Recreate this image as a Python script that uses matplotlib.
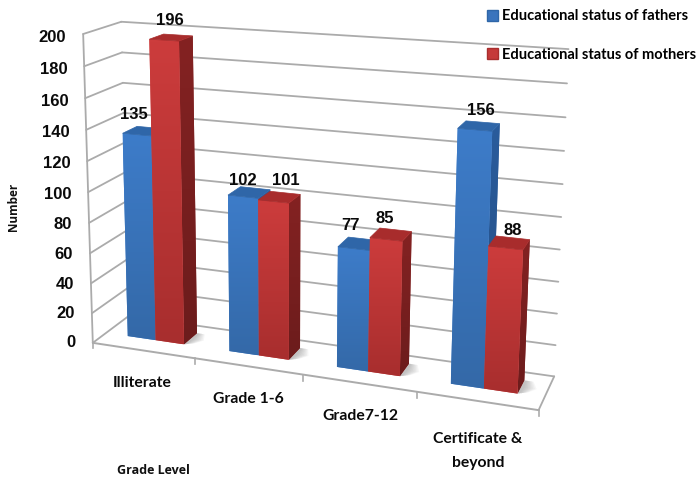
import numpy as np
import matplotlib
matplotlib.use("Agg")
import matplotlib.pyplot as plt
from matplotlib.colors import LinearSegmentedColormap
from matplotlib.patches import Polygon, Patch

# Chart content
categories = ["Illiterate", "Grade 1-6", "Grade7-12", "Certificate &\nbeyond"]
fathers = [135, 102, 77, 156]
mothers = [196, 101, 85, 88]
series_names = ["Educational status of fathers", "Educational status of mothers"]
y_ticks = list(range(0, 201, 20))

WIDTH, HEIGHT = 699, 482
BAR_START = 0.22
BAR_WIDTH = 0.28
DEPTH_FRONT, DEPTH_BACK = 0.36, 0.76

# Camera calibration: (category pos, depth, value) -> canvas position
calibration = [
    ((0, 0, 0), (95, 342)), ((4, 0, 0), (538, 412)), ((4, 1, 0), (555, 373)),
    ((0, 1, 0), (127, 318)), ((0, 0, 200), (82, 33)), ((0, 1, 200), (122, 22)),
    ((4, 1, 200), (568, 50)), ((1, 0, 0), (194, 358)), ((2, 0, 0), (302, 373)),
    ((3, 0, 0), (417, 394)), ((0, 0, 100), (89, 192)), ((4, 1, 100), (562, 217)),
]


def solve_camera(pairs):
    rows, rhs = [], []
    for (x, d, z), (u, v) in pairs:
        z = z / 100
        rows.append([x, d, z, 1, 0, 0, 0, 0, -u * x, -u * d, -u * z])
        rows.append([0, 0, 0, 0, x, d, z, 1, -v * x, -v * d, -v * z])
        rhs += [u, v]
    p = np.linalg.lstsq(np.array(rows, float), np.array(rhs, float), rcond=None)[0]
    return np.append(p, 1.0).reshape(3, 4)


CAMERA = solve_camera(calibration)


def project(x, d, z):
    h = CAMERA @ np.array([x, d, z / 100, 1.0])
    return h[0] / h[2], h[1] / h[2]


plt.rcParams["font.family"] = ["Liberation Sans", "DejaVu Sans"]
fig = plt.figure(figsize=(WIDTH / 100, HEIGHT / 100), dpi=100)
ax = fig.add_axes([0, 0, 1, 1])
ax.set_xlim(0, WIDTH)
ax.set_ylim(HEIGHT, 0)
ax.set_autoscale_on(False)
ax.axis("off")

GRID = "#ababab"


def line3d(a, b, **kw):
    pa, pb = project(*a), project(*b)
    ax.plot([pa[0], pb[0]], [pa[1], pb[1]], color=GRID, solid_capstyle="round", **kw)


# Walls and floor
for v in y_ticks:
    line3d((0, 0, v), (0, 1, v), lw=1.3, zorder=1)
    line3d((0, 1, v), (4, 1, v), lw=1.3, zorder=1)
line3d((0, 0, 0), (0, 0, 200), lw=1.3, zorder=1)
line3d((0, 0, 0), (4, 0, 0), lw=1.4, zorder=1)
line3d((4, 0, 0), (4, 1, 0), lw=1.3, zorder=1)
for i in range(1, 5):
    px, py = project(i, 0, 0)
    ax.plot([px, px], [py, py + 6], color=GRID, lw=1.2, zorder=1)
px, py = project(0, 0, 0)
ax.plot([px, px], [py, py + 5], color=GRID, lw=1.2, zorder=1)


def shaded_face(corners, top_color, bottom_color, z):
    """Fill a projected quad with a vertical colour ramp clipped to its outline."""
    pts = np.array([project(*c) for c in corners])
    outline = Polygon(pts, closed=True, facecolor=top_color, edgecolor="none", zorder=z)
    ax.add_patch(outline)
    cmap = LinearSegmentedColormap.from_list("ramp", [top_color, bottom_color])
    xs, ys = pts[:, 0], pts[:, 1]
    img = ax.imshow(np.linspace(0, 1, 64).reshape(-1, 1), cmap=cmap, aspect="auto",
                    extent=(xs.min(), xs.max(), ys.max(), ys.min()), zorder=z + 0.01,
                    interpolation="bilinear")
    img.set_clip_path(outline)


def bar(x0, x1, value, front_top, front_bottom, side_top, side_bottom, roof, z):
    d0, d1 = DEPTH_FRONT, DEPTH_BACK
    shaded_face([(x1, d0, 0), (x1, d1, 0), (x1, d1, value), (x1, d0, value)], side_top, side_bottom, z)
    shaded_face([(x0, d0, 0), (x1, d0, 0), (x1, d0, value), (x0, d0, value)], front_top, front_bottom, z + 0.1)
    ax.add_patch(Polygon([project(x0, d0, value), project(x1, d0, value),
                          project(x1, d1, value), project(x0, d1, value)],
                         closed=True, facecolor=roof, edgecolor=roof, lw=0.5, zorder=z + 0.2))


BLUE = dict(front_top="#3d7cc9", front_bottom="#3469a8", side_top="#2a5c9c", side_bottom="#234d82", roof="#2f66a8")
RED = dict(front_top="#cc3c3c", front_bottom="#a82e2e", side_top="#842222", side_bottom="#6c1c1c", roof="#a82c2c")

for i in range(len(categories)):
    x_a = i + BAR_START
    x_b = x_a + BAR_WIDTH
    x_c = x_b + BAR_WIDTH
    # Soft contact shadow on the floor
    for grow in np.linspace(0.03, 0.13, 8):
        pts = [(x_c, DEPTH_FRONT, 0), (x_c + grow * 0.6, DEPTH_FRONT + grow * 0.6, 0),
               (x_c + grow, DEPTH_FRONT + 0.2, 0), (x_c + grow * 0.6, DEPTH_BACK, 0), (x_c, DEPTH_BACK, 0)]
        ax.add_patch(Polygon([project(*p) for p in pts], closed=True, facecolor="#555555",
                             edgecolor="none", alpha=0.05, zorder=2))
    bar(x_a, x_b, fathers[i], z=3 + i, **BLUE)
    bar(x_b, x_c, mothers[i], z=3.4 + i, **RED)

# Value labels sit above the front edge of each bar, nudged to stay clear of the walls
fathers_nudge = [(0, -20), (3, -16), (0, -23), (9, -19)]
mothers_nudge = [(2, -20), (8, -21), (-5, -21), (3, -17)]
value_font = dict(fontsize=12, fontweight="bold", color="#0a0a0a", ha="center", va="center", zorder=9)
for i in range(len(categories)):
    x_a = i + BAR_START
    px, py = project(x_a + BAR_WIDTH * 0.5, DEPTH_FRONT, fathers[i])
    ax.text(px - 3 + fathers_nudge[i][0], py + fathers_nudge[i][1], str(fathers[i]), **value_font)
    px, py = project(x_a + BAR_WIDTH * 1.5, DEPTH_FRONT, mothers[i])
    ax.text(px + 4 + mothers_nudge[i][0], py + mothers_nudge[i][1], str(mothers[i]), **value_font)

# Value axis labels
for v in y_ticks:
    px, py = project(0, 0, v)
    ax.text(px - 17, py + v / 50, str(v), fontsize=12, fontweight="bold", color="#0a0a0a",
            ha="right", va="center", zorder=9)

# Category labels
cat_positions = [0.5, 1.5, 2.5, 3.5]
cat_offsets = [(-1, 33), (0, 33), (1, 33), (1, 50)]
for name, pos, (dx, dy) in zip(categories, cat_positions, cat_offsets):
    px, py = project(pos, 0, 0)
    ax.text(px + dx, py + dy, name, fontsize=11.3, fontweight="bold", color="#0a0a0a",
            ha="center", va="center", linespacing=1.85, zorder=9, family=["Lato", "Liberation Sans"])

ax.text(13, 207, "Number", rotation=90, fontsize=8.5, fontweight="bold", ha="center", va="center",
        family=["Open Sans", "DejaVu Sans"], color="#111111")
ax.text(153, 471, "Grade Level", fontsize=9, fontweight="bold", ha="center", va="center",
        family=["Open Sans", "DejaVu Sans"], color="#111111")

# Legend
handles = [Patch(facecolor="#3a74bd", edgecolor="#2f66a8"), Patch(facecolor="#c53a3a", edgecolor="#a82e2e")]
leg = ax.legend(handles, series_names, loc="upper left", bbox_to_anchor=(486 / WIDTH, 1 - 8 / HEIGHT),
                frameon=False, handlelength=0.7, handleheight=0.85, handletextpad=0.3, labelspacing=1.65,
                borderaxespad=0, borderpad=0.1,
                prop=dict(family=["Lato", "Liberation Sans"], weight="bold", size=10.5))
leg.set_zorder(10)

fig.savefig("out.png", dpi=100)
